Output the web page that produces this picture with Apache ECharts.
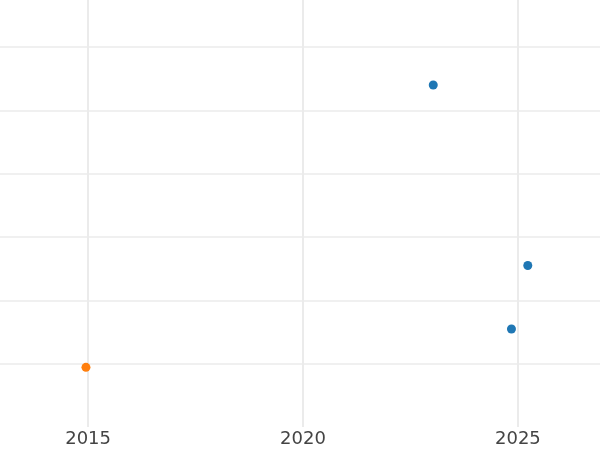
<!DOCTYPE html>
<html>
<head>
<meta charset="utf-8">
<script src="https://cdn.jsdelivr.net/npm/echarts@6/dist/echarts.min.js"></script>
<style>html,body{margin:0;padding:0;background:#fff}#c{width:600px;height:450px}</style>
</head>
<body>
<div id="c"></div>
<script>
const blueX = [2023.03, 2025.23, 2024.85];
const blueY = [5.40, 2.55, 1.547];
const orangeX = [2014.95];
const orangeY = [0.942];
const xTickLabels = [2015, 2020, 2025];

const chart = echarts.init(document.getElementById('c'));
const grid = '#ebebeb', none = 'rgba(0,0,0,0)';
chart.setOption({
  animation: false,
  backgroundColor: '#ffffff',
  grid: {left: 0, right: 0, top: 0, bottom: 23, containLabel: false, outerBoundsMode: 'none'},
  xAxis: {
    type: 'value', min: 2012.95, max: 2026.91, splitNumber: 3,
    axisLine: {show: false}, axisTick: {show: false},
    axisLabel: {
      margin: 3, color: '#444', fontSize: 18, fontFamily: 'DejaVu Sans',
      hideOverlap: false,
      formatter: v => xTickLabels.includes(Math.round(v * 1000) / 1000) ? String(v) : ''
    },
    splitLine: {show: true, lineStyle: {width: 2, color: [none, grid, grid, grid, none]}}
  },
  yAxis: {
    type: 'value', min: 0, max: 6.741, interval: 1,
    axisLine: {show: false}, axisTick: {show: false}, axisLabel: {show: false},
    splitLine: {show: true, lineStyle: {width: 1.5, color: [none, grid, grid, grid, grid, grid, grid, none]}}
  },
  series: [
    {type: 'scatter', symbolSize: 9, itemStyle: {color: '#1f77b4', opacity: 1},
     data: blueX.map((x, i) => [x, blueY[i]])},
    {type: 'scatter', symbolSize: 9, itemStyle: {color: '#ff7f0e', opacity: 1},
     data: orangeX.map((x, i) => [x, orangeY[i]])}
  ]
});
</script>
</body>
</html>
